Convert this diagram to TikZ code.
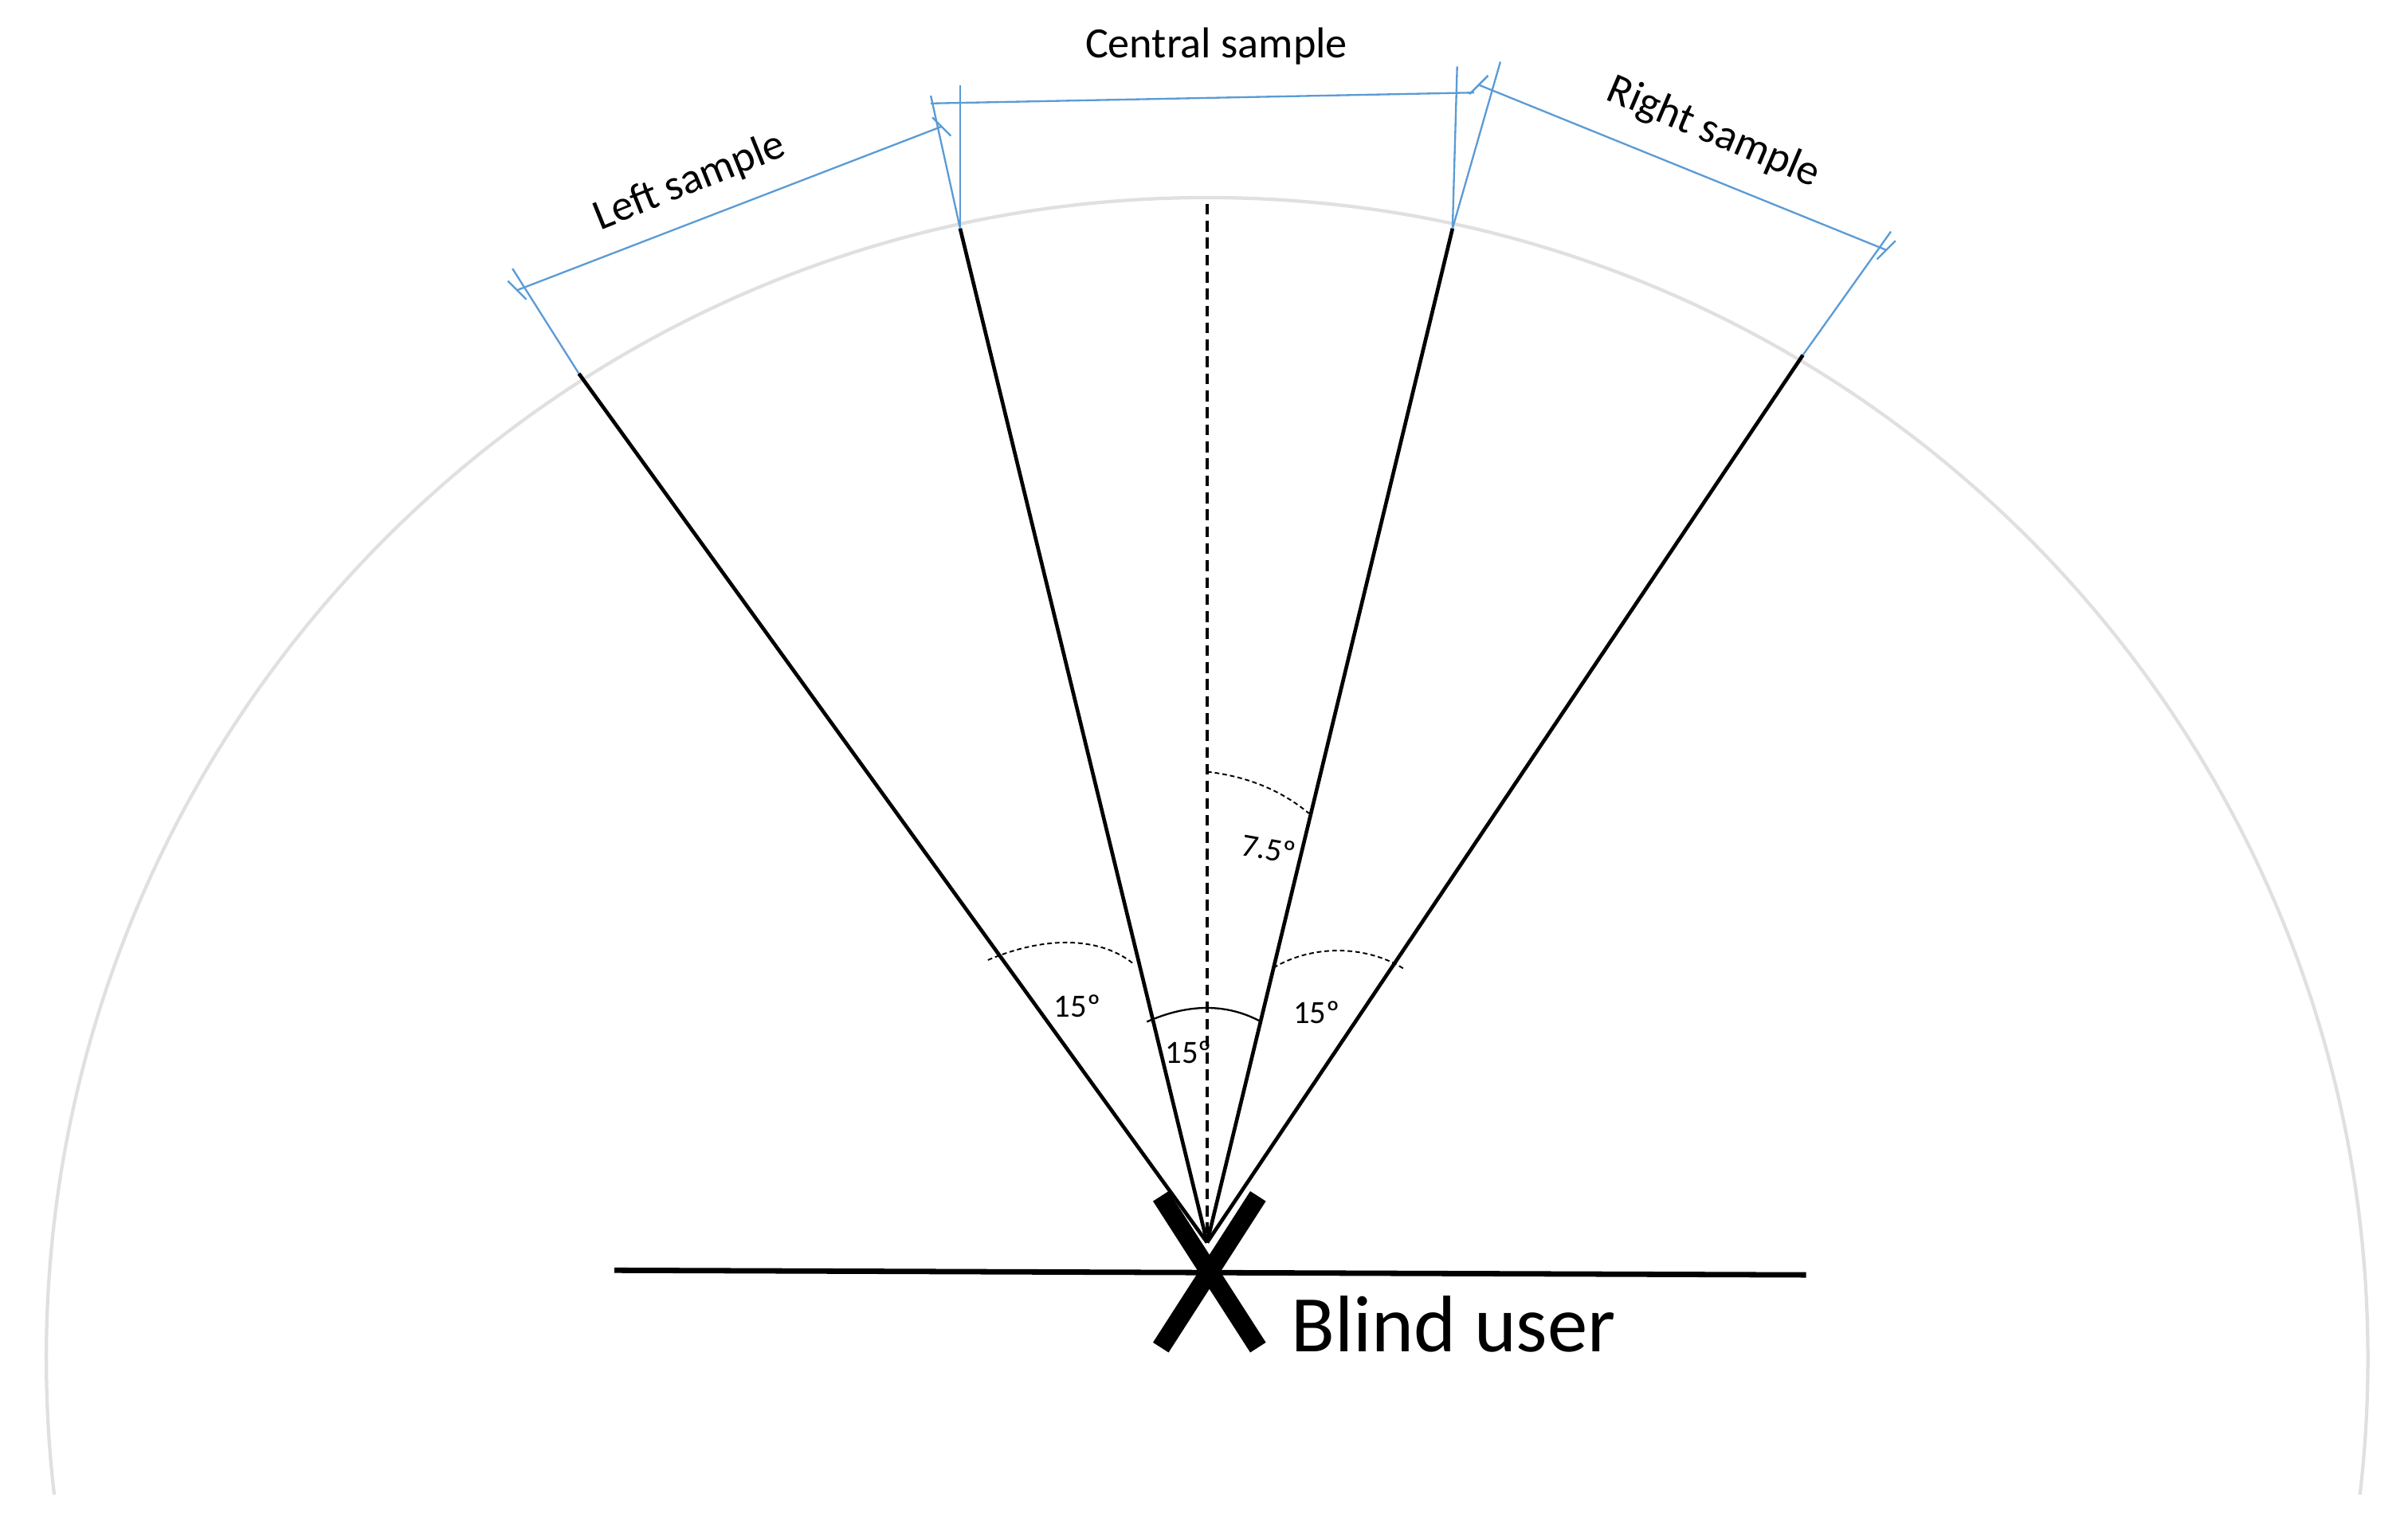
\documentclass[tikz,border=0pt]{standalone}
\usepackage{fontspec}
\setmainfont{Carlito}
\usetikzlibrary{calc}
\tikzstyle{ray} = [line width=2.4pt, black]
\tikzstyle{dim} = [line width=1.2pt, color={rgb,255:red,91;green,155;blue,213}]
\tikzstyle{angarc} = [line width=1pt, dash pattern=on 3pt off 2pt]
\tikzstyle{lbl} = [font=\fontsize{28}{32}\selectfont]
\tikzstyle{small} = [font=\fontsize{21}{24}\selectfont]

\begin{document}
\begin{tikzpicture}[x=1pt, y=-1pt]
    \useasboundingbox (0,0) rectangle (1560,988);

    % Range circle
    \begin{scope}
        \clip (0,0) rectangle (1560,968);
        \draw [line width=2.2pt, black!12] (782,880) circle (752);
    \end{scope}

    % Origin and ray ends
    \coordinate (user) at (782,805);
    \coordinate (lout) at (375,242);
    \coordinate (lin) at (622,148);
    \coordinate (rin) at (941,148);
    \coordinate (rout) at (1168,230);
    \coordinate (top) at (782,132);

    % Rays
    \draw [ray] (lout) -- (user);
    \draw [ray] (lin) -- (user);
    \draw [ray] (rin) -- (user);
    \draw [ray] (rout) -- (user);
    \draw [ray, line width=1.8pt, dash pattern=on 7pt off 4pt] (top) -- (user);

    % Ground and user
    \draw [line width=3.5pt] (398,823) -- (1170,826);
    \draw [line width=12pt] (752,775) -- (815,873);
    \draw [line width=12pt] (815,775) -- (752,873);
    \node (blind) [anchor=west, font=\fontsize{52}{56}\selectfont] at (833,858) {Blind user};

    % Angle arcs
    \draw [angarc] (640,622) .. controls (680,605) and (715,608) .. (735,625);
    \draw [line width=1.2pt] (743,662) .. controls (770,650) and (795,650) .. (817,662);
    \draw [angarc] (825,627) .. controls (850,612) and (885,612) .. (910,628);
    \draw [angarc] (782,500) .. controls (808,503) and (830,512) .. (848,527);
    \node (a1) [small] at (698,652) {15º};
    \node (a2) [small] at (770,682) {15º};
    \node (a3) [small] at (853,656) {15º};
    \node (a4) [small, rotate=-10] at (822,550) {7.5º};

    % Dimension lines
    \coordinate (l1) at (335,188);
    \coordinate (l2) at (610,82);
    \coordinate (c1) at (603,67);
    \coordinate (c2) at (955,60);
    \coordinate (r1) at (958,55);
    \coordinate (r2) at (1222,162);
    \draw [dim] (lout) -- (332,174);
    \draw [dim] (lin) -- (603,62);
    \draw [dim] (lin) -- (622,55);
    \draw [dim] (rin) -- (944,43);
    \draw [dim] (rin) -- (972,40);
    \draw [dim] (rout) -- (1225,150);
    \draw [dim] (l1) -- (l2);
    \draw [dim] (c1) -- (c2);
    \draw [dim] (r1) -- (r2);
    \draw [dim] ($(l1)+(-6,-6)$) -- ($(l1)+(6,6)$);
    \draw [dim] ($(l2)+(-6,-6)$) -- ($(l2)+(6,6)$);
    \draw [dim] ($(r1)+(6,-6)$) -- ($(r1)+(-6,6)$);
    \draw [dim] ($(r2)+(6,-6)$) -- ($(r2)+(-6,6)$);

    % Sample labels
    \node (left) [lbl, rotate=22] at (447,118) {Left sample};
    \node (central) [lbl] at (788,30) {Central sample};
    \node (right) [lbl, rotate=-23] at (1110,86) {Right sample};

\end{tikzpicture}
\end{document}
